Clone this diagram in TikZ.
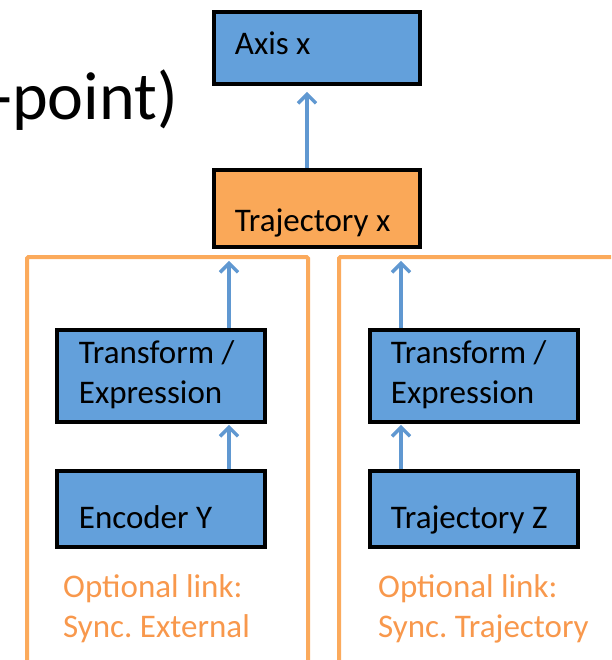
\documentclass[tikz,border=0pt]{standalone}
\usepackage{fontspec}
\setmainfont{Carlito}
\frenchspacing
\usetikzlibrary{arrows.meta}

\definecolor{boxblue}{RGB}{99,160,219}
\definecolor{boxorange}{RGB}{250,168,88}
\definecolor{frameorange}{RGB}{251,170,92}
\definecolor{noteorange}{RGB}{248,152,76}
\definecolor{linkblue}{RGB}{96,152,209}

% left-aligned block of lines whose baseline is the first line
\newcommand{\textlines}[1]{\begin{tabular}[t]{@{}l@{}}#1\end{tabular}}
% fixed-width, left-aligned content for a block
\newcommand{\blocktext}[2]{\makebox[#1][l]{\textlines{#2}}}

\begin{document}
\begin{tikzpicture}[x=1pt,y=-1pt,
  every node/.style={font=\fontsize{33}{40}\selectfont},
  block/.style={draw=black, line width=3.8pt, inner ysep=0pt, anchor=north west},
  blueblock/.style={block, fill=boxblue},
  orangeblock/.style={block, fill=boxorange},
  group/.style={draw=frameorange, line width=4pt, rounded corners=1.5pt,
                anchor=north west, inner sep=0pt},
  note/.style={text=noteorange, anchor=base west, inner sep=0pt},
  link/.style={draw=linkblue, line width=3.5pt,
               -{Straight Barb[length=9pt,width=18pt]}}
]
\useasboundingbox (0,0) rectangle (611,660);
\clip (0,0) rectangle (611,660);

% heading fragment
\node[font=\fontsize{68}{80}\selectfont, anchor=base east, inner sep=0pt]
  (heading) at (178,120) {-point)};

% groups for the two optional links
\node[group, minimum width=281pt, minimum height=445pt] (groupA) at (25,255) {};
\node[group, minimum width=300pt, minimum height=445pt] (groupB) at (337,255) {};

% blocks
\node[blueblock, inner xsep=21pt, text height=43pt, text depth=29pt]
  (axis) at (212,10) {\blocktext{164pt}{Axis x}};
\node[orangeblock, inner xsep=21pt, text height=62pt, text depth=15pt]
  (trajx) at (212,168) {\blocktext{164pt}{Trajectory x}};

\node[blueblock, inner xsep=22pt, text height=34pt, text depth=58pt]
  (transA) at (55,328) {\blocktext{164pt}{Transform /\\Expression}};
\node[blueblock, inner xsep=22pt, text height=58pt, text depth=18pt]
  (encY) at (55,469) {\blocktext{164pt}{Encoder Y}};

\node[blueblock, inner xsep=21pt, text height=34pt, text depth=58pt]
  (transB) at (368,328) {\blocktext{166pt}{Transform /\\Expression}};
\node[blueblock, inner xsep=21pt, text height=58pt, text depth=18pt]
  (trajZ) at (368,469) {\blocktext{166pt}{Trajectory Z}};

% notes
\node[note] (noteA) at (63,597) {\textlines{Optional link:\\Sync. External}};
\node[note] (noteB) at (378,597) {\textlines{Optional link:\\Sync. Trajectory}};

% connectors
\draw[link, shorten >=6pt]
  ([xshift=95pt]trajx.north west) -- ([xshift=95pt]axis.south west);
\draw[link, shorten >=12pt]
  ([xshift=174pt]transA.north west) -- ([xshift=17pt]trajx.south west);
\draw[link, shorten >=12pt]
  ([xshift=33pt]transB.north west) -- ([xshift=189pt]trajx.south west);
\draw[link, shorten >=1pt]
  ([xshift=174pt]encY.north west) -- ([xshift=174pt]transA.south west);
\draw[link, shorten >=1pt]
  ([xshift=33pt]trajZ.north west) -- ([xshift=33pt]transB.south west);
\end{tikzpicture}
\end{document}
